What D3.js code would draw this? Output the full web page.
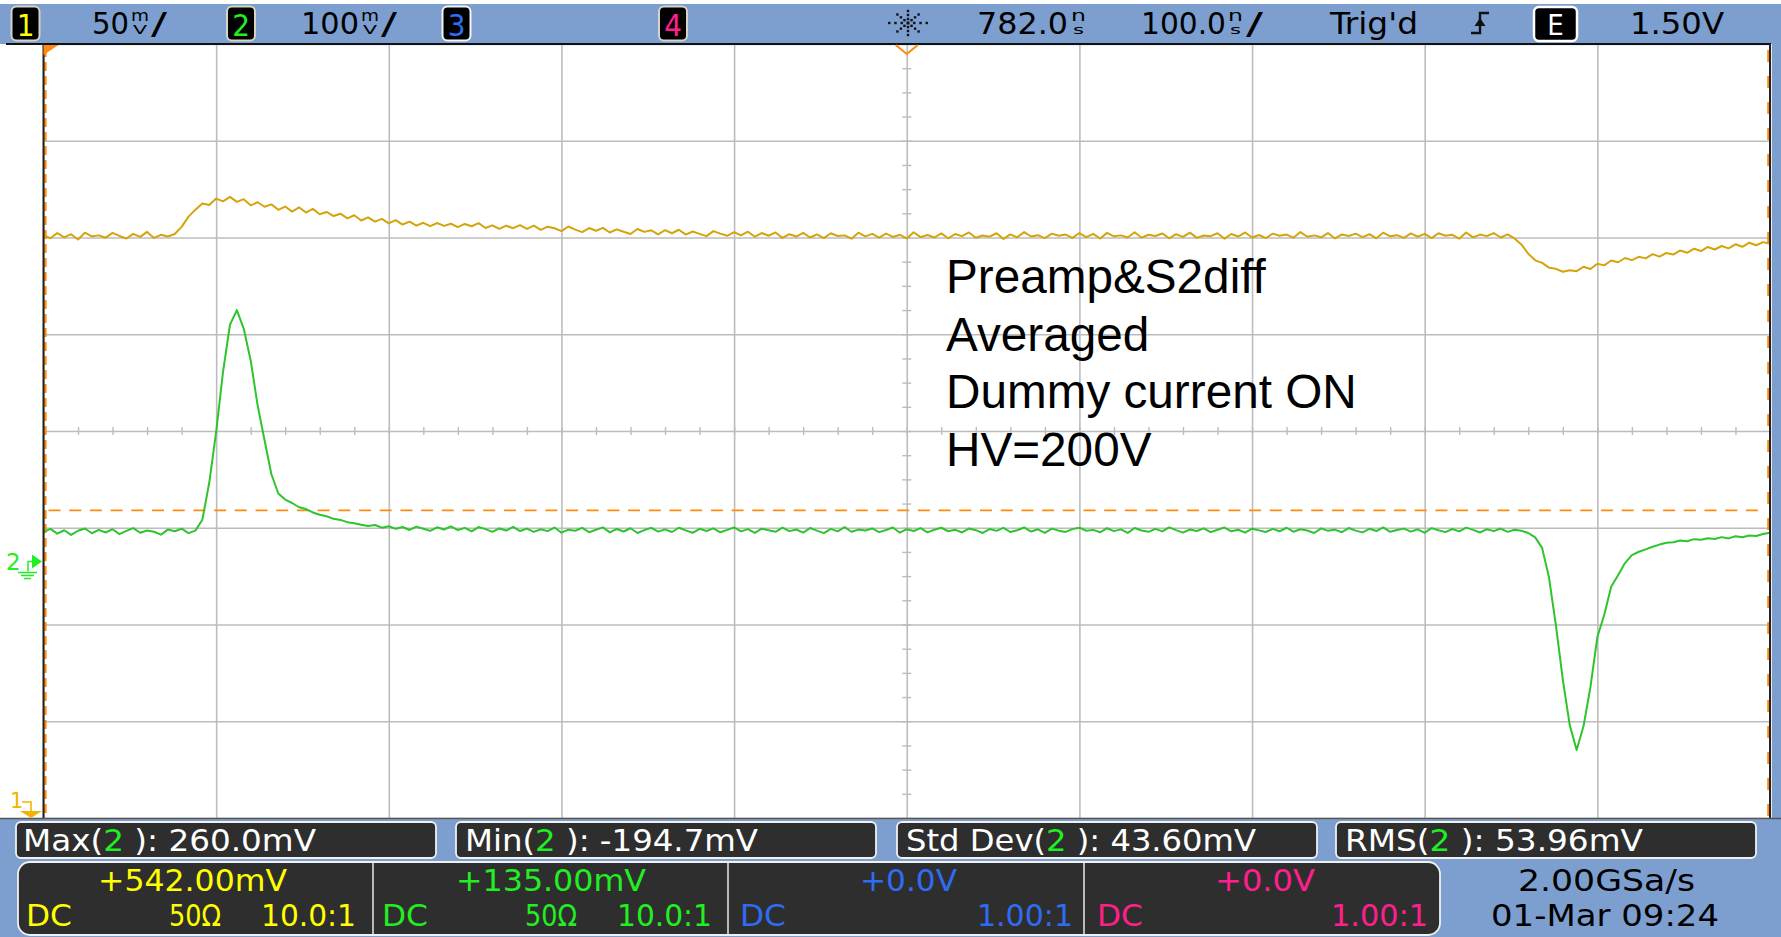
<!DOCTYPE html>
<html><head><meta charset="utf-8">
<script src="https://cdn.jsdelivr.net/npm/d3@7"></script>
<style>
html,body{margin:0;padding:0;background:#fff;overflow:hidden}
svg{display:block}
</style></head><body>
<svg id="scope" width="1781" height="937"></svg>
<script>
// ---- Acquisition: averaged record, one stored point every 4 ns ----
const sampleStartNs = 282;
const sampleStepNs = 4;

// Channel 1 (Preamp), mV
const ch1Mv = [
 643.2,641.6,644.3,642.1,643.7,641.0,644.5,642.6,643.1,641.9,
 644.4,642.8,641.5,643.9,642.3,644.9,641.8,643.4,642.5,643.8,
 647.5,652.8,656.4,659.6,658.8,662.1,660.7,663.0,660.4,661.8,
 658.6,660.2,657.9,659.1,656.3,658.0,655.4,657.6,654.9,656.8,
 654.0,655.2,653.1,654.3,651.9,653.5,650.8,652.4,650.2,651.6,
 649.3,651.0,648.7,650.2,648.1,649.6,647.9,649.5,648.0,649.1,
 647.4,649.0,647.8,649.4,646.9,648.3,646.5,648.1,646.8,648.4,
 646.5,648.1,645.9,647.6,646.8,645.3,647.7,646.1,644.8,646.9,
 645.5,647.0,644.6,646.2,645.0,643.8,646.4,644.9,645.7,643.6,
 645.8,644.2,646.0,643.5,645.1,643.9,642.7,645.3,644.0,642.9,
 644.8,643.1,645.0,642.4,644.3,642.9,644.6,641.8,643.7,642.5,
 644.4,642.0,643.6,641.7,644.2,642.8,643.1,641.4,644.5,642.6,
 643.9,641.9,644.0,642.3,643.4,641.5,644.7,642.2,643.3,642.0,
 644.1,641.6,643.8,642.7,644.6,641.9,643.0,642.4,644.2,641.3,
 643.6,642.1,644.8,642.5,643.2,641.7,644.0,642.9,643.5,641.8,
 644.3,642.2,643.9,641.5,644.4,642.6,643.1,642.0,644.7,641.9,
 643.4,642.8,644.1,641.6,643.7,642.3,644.5,641.8,643.0,642.7,
 644.2,641.4,643.8,642.5,644.6,642.0,643.3,641.7,644.0,642.9,
 643.5,641.9,644.8,642.4,643.1,642.1,644.3,641.5,643.6,642.8,
 644.0,642.2,643.7,641.6,644.5,642.6,643.2,641.8,644.1,642.4,
 643.9,641.7,644.2,642.9,643.4,641.4,644.6,642.1,643.5,642.7,
 644.3,642.0,643.6,641.5,638.4,633.6,630.2,628.9,626.4,625.8,
 624.3,625.1,624.6,626.9,625.7,628.4,627.6,630.1,629.2,631.4,
 630.3,632.0,631.2,633.4,632.1,634.0,633.2,635.3,634.1,636.2,
 635.0,637.1,635.8,637.6,636.4,638.5,637.2,639.3,638.0,639.6,
 638.7
];

// Channel 2 (S2diff), mV
const ch2Mv = [
 30.5,33.8,28.9,32.4,27.6,31.9,34.2,29.3,32.8,30.1,
 33.5,28.4,31.7,34.6,29.8,32.2,30.9,27.9,33.1,31.4,
 34.0,29.5,32.0,43.2,81.5,134.0,196.3,244.8,260.0,240.6,
 207.9,161.8,125.7,90.3,70.4,64.1,60.6,56.2,54.3,50.8,
 48.5,46.9,44.2,43.1,40.8,39.7,38.2,36.9,37.8,35.1,
 36.6,33.9,35.8,32.7,36.2,34.0,31.8,35.5,33.2,36.4,
 32.5,34.9,31.2,35.7,33.6,30.8,34.3,32.1,35.9,31.6,
 34.1,30.7,33.4,31.5,35.2,29.9,33.0,31.9,34.8,30.4,
 32.9,35.4,30.2,33.7,31.1,34.5,29.6,32.6,34.9,31.0,
 33.3,30.6,35.0,32.3,29.8,33.9,31.7,34.4,30.3,32.8,
 35.3,31.2,33.6,29.7,34.0,32.4,30.8,35.1,31.5,33.2,
 30.0,34.7,32.0,29.5,33.8,31.3,35.6,30.9,33.1,32.2,
 34.3,30.5,32.7,35.2,29.9,33.5,31.6,34.6,30.2,32.9,
 35.0,31.4,33.0,30.1,34.2,32.5,29.6,33.7,31.8,34.9,
 30.6,32.4,35.3,31.1,33.4,29.8,34.1,32.0,30.7,33.6,
 35.1,31.9,32.8,30.3,34.5,31.5,33.3,29.7,34.8,32.1,
 30.8,33.9,31.2,35.4,32.6,30.0,33.2,31.7,34.4,30.5,
 33.0,35.2,31.3,32.9,29.9,34.0,32.3,30.6,33.8,31.4,
 35.0,30.9,33.5,32.2,29.6,34.3,31.8,33.1,30.4,34.7,
 32.0,30.2,33.9,31.6,35.3,30.8,32.7,34.1,31.0,33.4,
 29.8,34.6,32.4,30.5,33.7,31.2,35.1,32.8,30.1,33.5,
 31.5,34.2,30.7,33.0,31.9,29.6,25.0,14.2,-16.5,-66.0,
 -122.0,-169.0,-194.7,-170.0,-129.6,-78.0,-55.0,-26.0,-14.0,-1.5,
 6.8,10.2,12.7,15.3,17.6,19.4,20.1,21.8,21.0,23.2,
 22.5,24.1,23.4,25.3,24.0,26.2,25.1,27.0,26.4,28.6,
 29.9
];

// ---- Front-panel settings ----
const timeRefNs = 782.0, timePerDivNs = 100.0;
const ch1OffsetMv = 542, ch1PerDivMv = 50;
const ch2OffsetMv = 135, ch2PerDivMv = 100;
const trigLevelCh2Mv = 53;
const xDivs = 10, yDivs = 8;

const annotationLines = ["Preamp&S2diff", "Averaged", "Dummy current ON", "HV=200V"];

const measNames = ["Max", "Min", "Std Dev", "RMS"];
const measValues = [": 260.0mV", ": -194.7mV", ": 43.60mV", ": 53.96mV"];

const chanColors = ["#ffff00", "#22ee22", "#2f6cf2", "#ff1f8c"];
const chanOffsets = ["+542.00mV", "+135.00mV", "+0.0V", "+0.0V"];
const chanCoupling = ["DC", "DC", "DC", "DC"];
const chanImpedance = ["50Ω", "50Ω", "", ""];
const chanProbe = ["10.0:1", "10.0:1", "1.00:1", "1.00:1"];

// ---- Drawing ----
const W = 1781, H = 937;
const PL = 43.5, PR = 1770, PT = 44, PB = 818;
const BLUE = "#7c9fcf";
const NARROW = "'Liberation Sans Narrow','DejaVu Sans Condensed','Arial Narrow',sans-serif";

const svg = d3.select("#scope");

const x = d3.scaleLinear()
  .domain([timeRefNs - xDivs / 2 * timePerDivNs, timeRefNs + xDivs / 2 * timePerDivNs])
  .range([PL, PR]);
const y1 = d3.scaleLinear()
  .domain([ch1OffsetMv - yDivs / 2 * ch1PerDivMv, ch1OffsetMv + yDivs / 2 * ch1PerDivMv])
  .range([PB, PT]);
const y2 = d3.scaleLinear()
  .domain([ch2OffsetMv - yDivs / 2 * ch2PerDivMv, ch2OffsetMv + yDivs / 2 * ch2PerDivMv])
  .range([PB, PT]);

const tNs = ch1Mv.map((_, i) => sampleStartNs + i * sampleStepNs);

function label(parent, px, py, s, o = {}) {
  const t = parent.append("text")
    .attr("x", px).attr("y", py)
    .attr("font-family", o.family || NARROW)
    .attr("font-size", o.size || 29)
    .attr("fill", o.fill || "#000")
    .attr("text-anchor", o.anchor || "start")
    .text(s);
  if (o.len) t.attr("textLength", o.len).attr("lengthAdjust", "spacingAndGlyphs");
  return t;
}

// backgrounds
svg.append("rect").attr("width", W).attr("height", H).attr("fill", "#fff");
svg.append("rect").attr("x", 0).attr("y", 4).attr("width", W).attr("height", PT - 4).attr("fill", BLUE);
svg.append("rect").attr("x", 0).attr("y", PB + 1).attr("width", W).attr("height", H - PB - 1).attr("fill", BLUE);
svg.append("rect").attr("x", PR + 2).attr("y", PT).attr("width", W - PR - 2).attr("height", PB - PT).attr("fill", BLUE);

// graticule
const xMajor = d3.range(xDivs + 1).map(k => x.domain()[0] + k * timePerDivNs);
const yMajor = d3.range(yDivs + 1).map(k => y2.domain()[0] + k * ch2PerDivMv);
const gx = svg.append("g").attr("transform", `translate(0,${PB})`)
  .call(d3.axisBottom(x).tickValues(xMajor).tickSize(-(PB - PT)).tickFormat(""));
const gy = svg.append("g").attr("transform", `translate(${PL},0)`)
  .call(d3.axisLeft(y2).tickValues(yMajor).tickSize(-(PR - PL)).tickFormat(""));
[gx, gy].forEach(g => {
  g.select(".domain").remove();
  g.selectAll("line").attr("stroke", "#bcbcbc").attr("stroke-width", 1.6);
});

// minor ticks on the centre axes
const xMinor = d3.range(xDivs * 5 + 1).map(k => x.domain()[0] + k * timePerDivNs / 5);
const yMinor = d3.range(yDivs * 4 + 1).map(k => y2.domain()[0] + k * ch2PerDivMv / 4);
const yc = y2(ch2OffsetMv), xc = x(timeRefNs);
const mx = svg.append("g").attr("transform", `translate(0,${yc - 4})`)
  .call(d3.axisBottom(x).tickValues(xMinor).tickSize(8).tickFormat(""));
const my = svg.append("g").attr("transform", `translate(${xc - 4.5},0)`)
  .call(d3.axisRight(y2).tickValues(yMinor).tickSize(9).tickFormat(""));
[mx, my].forEach(g => {
  g.select(".domain").remove();
  g.selectAll("line").attr("stroke", "#bcbcbc").attr("stroke-width", 1.4);
});

// trigger level marker
svg.append("line")
  .attr("x1", PL + 5).attr("x2", PR - 4)
  .attr("y1", y2(trigLevelCh2Mv)).attr("y2", y2(trigLevelCh2Mv))
  .attr("stroke", "#ff8a10").attr("stroke-width", 1.6).attr("stroke-dasharray", "12,8.7");

// edge markers
svg.append("line").attr("x1", PL + 1.8).attr("x2", PL + 1.8).attr("y1", PT + 4).attr("y2", PB)
  .attr("stroke", "#ff8a10").attr("stroke-width", 2.6).attr("stroke-dasharray", "9,5");
svg.append("line").attr("x1", PR - 1.5).attr("x2", PR - 1.5).attr("y1", PT + 6).attr("y2", PB)
  .attr("stroke", "#ff8a10").attr("stroke-width", 2.6).attr("stroke-dasharray", "12,14");

// traces
const clip = svg.append("clipPath").attr("id", "plotclip");
clip.append("rect").attr("x", PL).attr("y", PT).attr("width", PR - PL).attr("height", PB - PT);
const traces = svg.append("g").attr("clip-path", "url(#plotclip)");
const line1 = d3.line().x((d, i) => x(tNs[i])).y(d => y1(d));
const line2 = d3.line().x((d, i) => x(tNs[i])).y(d => y2(d));
traces.append("path").datum(ch1Mv).attr("d", line1)
  .attr("fill", "none").attr("stroke", "#d3a40c").attr("stroke-width", 2).attr("stroke-linejoin", "round");
traces.append("path").datum(ch2Mv).attr("d", line2)
  .attr("fill", "none").attr("stroke", "#2ec42e").attr("stroke-width", 2).attr("stroke-linejoin", "round");

// annotation
annotationLines.forEach((s, i) => {
  label(svg, 946, 293 + i * 57.7, s, { family: "'Liberation Sans',Arial,sans-serif", size: 47.7, fill: "#000" });
});

// frame
svg.append("line").attr("x1", 6).attr("x2", PR + 1).attr("y1", PT).attr("y2", PT).attr("stroke", "#111").attr("stroke-width", 2);
svg.append("line").attr("x1", PL).attr("x2", PL).attr("y1", PT).attr("y2", PB).attr("stroke", "#222").attr("stroke-width", 2);
svg.append("line").attr("x1", PR).attr("x2", PR).attr("y1", PT).attr("y2", PB).attr("stroke", "#222").attr("stroke-width", 2);
svg.append("line").attr("x1", 0).attr("x2", W).attr("y1", PB + 0.5).attr("y2", PB + 0.5).attr("stroke", "#555").attr("stroke-width", 1.5);

// time reference markers
svg.append("path").attr("d", `M${PL},${PT + 1}L${PL + 15},${PT + 1}L${PL},${PT + 11}Z`).attr("fill", "#ff8a10");
svg.append("path").attr("d", `M${xc - 11},${PT + 1}L${xc},${PT + 10}L${xc + 11},${PT + 1}`)
  .attr("fill", "none").attr("stroke", "#ff8a10").attr("stroke-width", 2);

// channel ground markers
const g2y = y2(0);
label(svg, 6, g2y + 8, "2", { size: 23, fill: "#22ee22", family: "'DejaVu Sans',sans-serif" });
svg.append("path").attr("d", `M28,${g2y + 10}V${g2y}H33`).attr("fill", "none").attr("stroke", "#22ee22").attr("stroke-width", 1.5);
svg.append("path").attr("d", `M18,${g2y + 11}H37M21,${g2y + 14}H34M24,${g2y + 17}H31`).attr("stroke", "#22ee22").attr("stroke-width", 1.5);
svg.append("path").attr("d", `M32,${g2y - 7}L42,${g2y}L32,${g2y + 7}Z`).attr("fill", "#22ee22");
label(svg, 10, 808, "1", { size: 21, fill: "#f2b400", family: "'DejaVu Sans',sans-serif" });
svg.append("path").attr("d", `M22,802H31V812`).attr("fill", "none").attr("stroke", "#f2b400").attr("stroke-width", 1.6);
svg.append("path").attr("d", `M20,811L42,811L31,818Z`).attr("fill", "#f2b400");

// ---- status line ----
const statusBar = svg.append("g");
const chanBoxX = [11.5, 227, 442.5, 659];
chanBoxX.forEach((bx, i) => {
  statusBar.append("rect").attr("x", bx).attr("y", 6.5).attr("width", 28).attr("height", 34).attr("rx", 5)
    .attr("fill", "#000").attr("stroke", i === 2 ? "#f4f4f4" : "#d6d4c4").attr("stroke-width", 2);
  label(statusBar, bx + 14, 36, String(i + 1), { size: 31, fill: chanColors[i], anchor: "middle" });
});

// unit drawn as two small stacked letters inside one text element
function stacked(px, a, b, w) {
  const t = statusBar.append("text").attr("font-family", NARROW).attr("fill", "#000");
  t.append("tspan").attr("x", px).attr("y", 21).attr("font-size", 15)
    .attr("textLength", w).attr("lengthAdjust", "spacingAndGlyphs").text(a);
  t.append("tspan").attr("x", px + 2).attr("y", 34).attr("font-size", 13)
    .attr("textLength", w - 4).attr("lengthAdjust", "spacingAndGlyphs").text(b);
}
label(statusBar, 92, 34, "50", { size: 30, len: 37 });
stacked(131, "m", "V", 18);
label(statusBar, 151, 34, "/", { size: 30, len: 16 });
label(statusBar, 301, 34, "100", { size: 30, len: 58 });
stacked(361, "m", "V", 18);
label(statusBar, 381, 34, "/", { size: 30, len: 16 });

// acquisition icon
const ic = statusBar.append("g").attr("transform", "translate(908,23)");
d3.range(8).forEach(k => {
  const a = k * Math.PI / 4;
  [5, 10, 15].forEach(r => {
    const rx = (k % 4 === 0) ? r * 1.25 : r;
    ic.append("rect").attr("x", Math.cos(a) * rx - 1.2).attr("y", Math.sin(a) * r * 0.8 - 1.2)
      .attr("width", 2.4).attr("height", 2.4).attr("fill", "#111");
  });
});
ic.append("rect").attr("x", -1.5).attr("y", -1.5).attr("width", 3).attr("height", 3).attr("fill", "#111");

label(statusBar, 977, 34, "782.0", { size: 30, len: 91 });
stacked(1071, "n", "s", 15);
label(statusBar, 1141, 34, "100.0", { size: 30, len: 85 });
stacked(1228, "n", "s", 15);
label(statusBar, 1246, 34, "/", { size: 30, len: 17 });
label(statusBar, 1330, 34, "Trig'd", { size: 30, len: 88 });
// rising-edge symbol
statusBar.append("path").attr("d", "M1471,33H1480V13H1489").attr("fill", "none").attr("stroke", "#111").attr("stroke-width", 2.4);
statusBar.append("path").attr("d", "M1474.5,26L1480,18L1485.5,26Z").attr("fill", "#111");
// external trigger source
statusBar.append("rect").attr("x", 1534).attr("y", 7).attr("width", 43).attr("height", 34).attr("rx", 5)
  .attr("fill", "#000").attr("stroke", "#fff").attr("stroke-width", 2.5);
label(statusBar, 1555.5, 35, "E", { size: 29, fill: "#fff", anchor: "middle" });
label(statusBar, 1630, 34, "1.50V", { size: 30, len: 94 });

// ---- measurement line ----
const measBoxX = [16, 456, 897, 1336];
const measTextX = [23, 465, 906, 1345];
const measTextLen = [293, 293, 350, 298];
measNames.forEach((n, i) => {
  svg.append("rect").attr("x", measBoxX[i]).attr("y", 822).attr("width", 420).attr("height", 36).attr("rx", 5)
    .attr("fill", "#2e2e2e").attr("stroke", "#f0f0f0").attr("stroke-width", 1.8);
  const t = label(svg, measTextX[i], 851, "", { size: 30, fill: "#fff", len: measTextLen[i] });
  t.append("tspan").text(n + "(");
  t.append("tspan").attr("fill", "#22ee22").text("2");
  t.append("tspan").text(" )" + measValues[i]);
});

// ---- channel setup panel ----
svg.append("rect").attr("x", 18).attr("y", 862).attr("width", 1422).attr("height", 73).attr("rx", 12)
  .attr("fill", "#2e2e2e").attr("stroke", "#f0f0f0").attr("stroke-width", 1.8);
const sepX = [373, 728, 1084];
sepX.forEach(sx => svg.append("line").attr("x1", sx).attr("x2", sx).attr("y1", 863).attr("y2", 934)
  .attr("stroke", "#e8e8e8").attr("stroke-width", 1.5));

const offX = [98, 456, 860, 1215], offLen = [189, 190, 97, 100];
const dcX = [26, 382, 740, 1097];
const impX = [169, 525], ratioX = [261, 617, 977, 1331], ratioLen = [95, 95, 96, 97];
chanOffsets.forEach((s, i) => {
  label(svg, offX[i], 891, s, { size: 30, fill: chanColors[i], len: offLen[i] });
  label(svg, dcX[i], 926, chanCoupling[i], { size: 30, fill: chanColors[i], len: 46 });
  if (chanImpedance[i]) label(svg, impX[i], 926, chanImpedance[i], { size: 30, fill: chanColors[i], len: 52 });
  label(svg, ratioX[i], 926, chanProbe[i], { size: 30, fill: chanColors[i], len: ratioLen[i] });
});

label(svg, 1518, 891, "2.00GSa/s", { size: 30, fill: "#000", len: 177 });
label(svg, 1491, 926, "01-Mar 09:24", { size: 30, fill: "#000", len: 228 });
</script>
</body></html>
